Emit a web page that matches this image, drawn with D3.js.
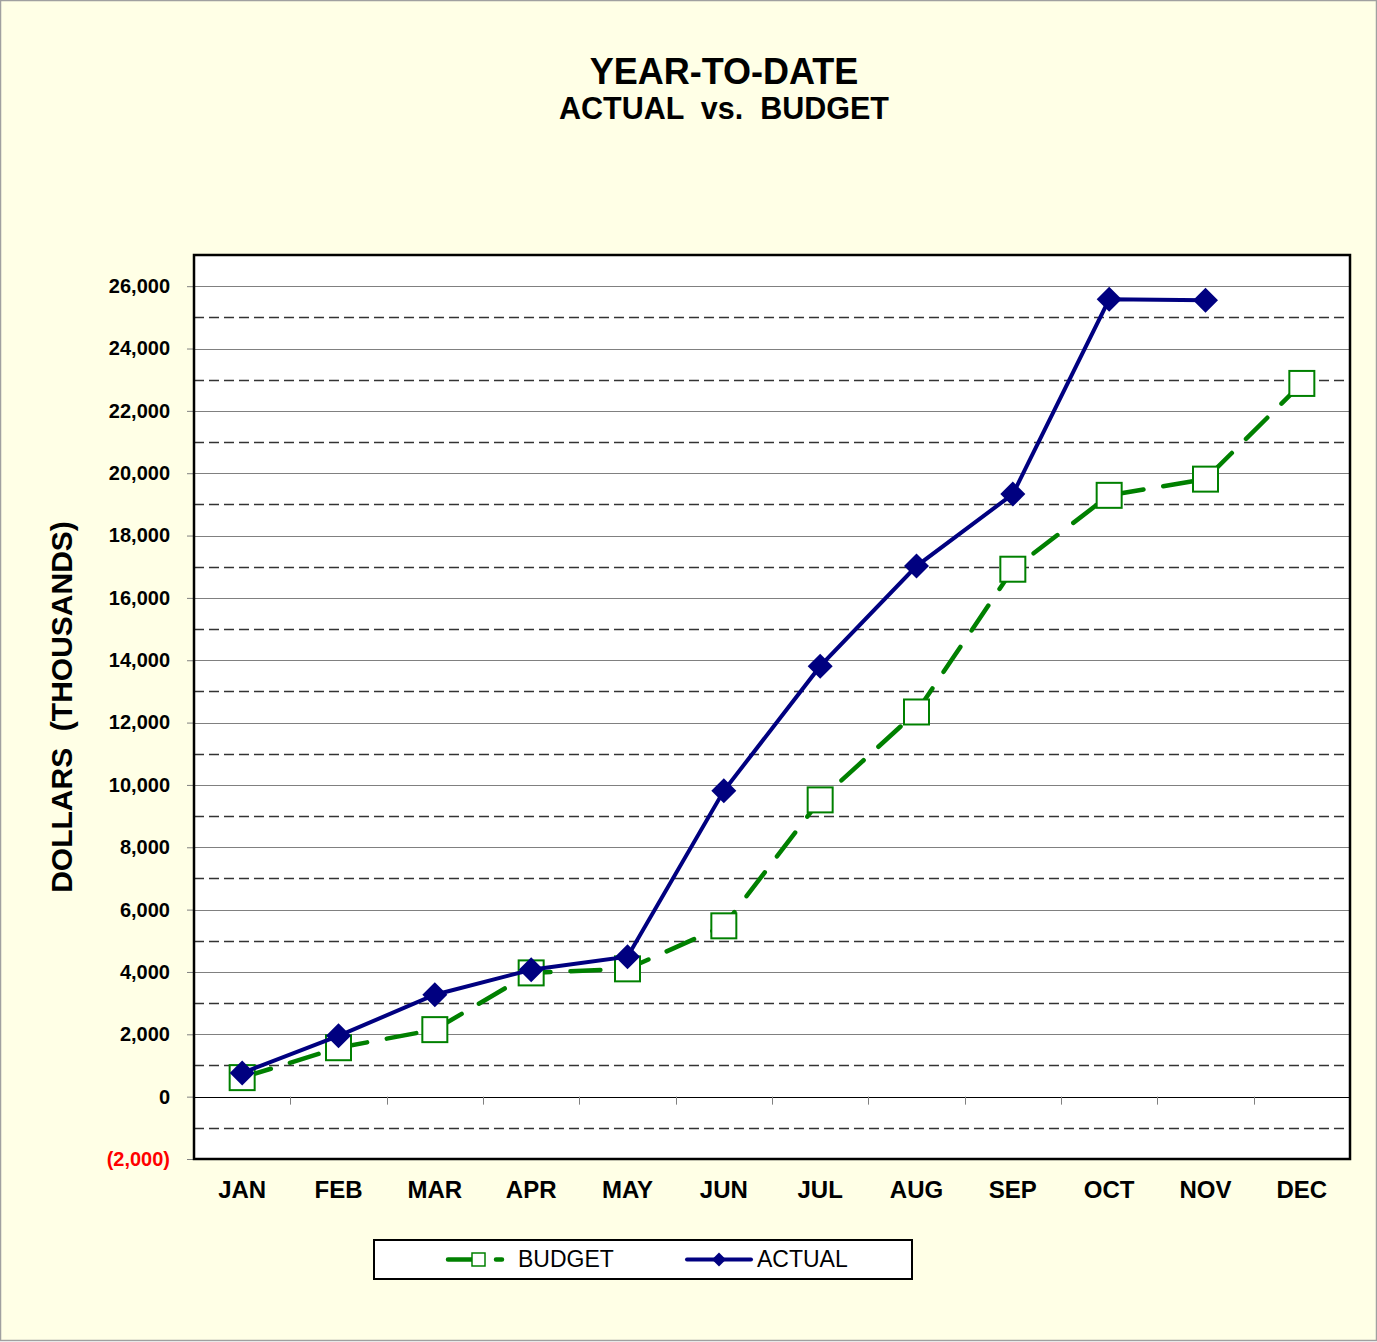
<!DOCTYPE html>
<html>
<head>
<meta charset="utf-8">
<script src="https://cdn.jsdelivr.net/npm/d3@7"></script>
<style>
  body { margin: 0; background: #fff; }
  svg { display: block; font-family: "Liberation Sans", Arial, sans-serif; }
</style>
</head>
<body>
<div id="chart"></div>
<script>
// data
var months = ["JAN", "FEB", "MAR", "APR", "MAY", "JUN", "JUL", "AUG", "SEP", "OCT", "NOV", "DEC"];
var budget = [610, 1570, 2150, 3970, 4100, 5480, 9520, 12340, 16920, 19290, 19810, 22880];
var actual = [760, 1950, 3270, 4070, 4490, 9810, 13810, 17020, 19330, 25580, 25550, null];
var majorTicks = [-2000, 0, 2000, 4000, 6000, 8000, 10000, 12000, 14000, 16000, 18000, 20000, 22000, 24000, 26000];
var minorTicks = [-1000, 1000, 3000, 5000, 7000, 9000, 11000, 13000, 15000, 17000, 19000, 21000, 23000, 25000];

var width = 1377, height = 1342;
var plotLeft = 194, plotRight = 1350, plotTop = 255, plotBottom = 1159;

var svg = d3.select("#chart").append("svg")
    .attr("width", width)
    .attr("height", height);

// page background
svg.append("rect")
    .attr("x", 0.5).attr("y", 0.5)
    .attr("width", width - 1).attr("height", height - 2)
    .style("fill", "#ffffe6")
    .style("stroke", "#a0a0a0")
    .style("stroke-width", "1.5px");

var x = d3.scaleBand()
    .domain(months)
    .range([plotLeft, plotRight]);

var y = d3.scaleLinear()
    .domain([-2000, 27000])
    .range([plotBottom, plotTop]);

var cx = function(m) { return x(m) + x.bandwidth() / 2; };

// titles
svg.append("text")
    .attr("x", 724).attr("y", 84)
    .attr("text-anchor", "middle")
    .style("font-size", "36px").style("font-weight", "bold")
    .text("YEAR-TO-DATE");
svg.append("text")
    .attr("x", 724).attr("y", 119)
    .attr("text-anchor", "middle")
    .attr("xml:space", "preserve")
    .style("font-size", "30.5px").style("font-weight", "bold")
    .text("ACTUAL  vs.  BUDGET");

// plot area
svg.append("rect")
    .attr("x", plotLeft).attr("y", plotTop)
    .attr("width", plotRight - plotLeft).attr("height", plotBottom - plotTop)
    .style("fill", "#fff");

// minor (dashed) gridlines
svg.append("g").selectAll("line")
    .data(minorTicks)
    .join("line")
    .attr("x1", plotLeft).attr("x2", plotRight)
    .attr("y1", d => Math.round(y(d)) + 0.5)
    .attr("y2", d => Math.round(y(d)) + 0.5)
    .style("stroke", "#333")
    .style("stroke-width", "1.3px")
    .style("stroke-dasharray", "10,5");

// major gridlines
svg.append("g").selectAll("line")
    .data(majorTicks.filter(d => d > 0))
    .join("line")
    .attr("x1", plotLeft).attr("x2", plotRight)
    .attr("y1", d => Math.round(y(d)) + 0.5)
    .attr("y2", d => Math.round(y(d)) + 0.5)
    .style("stroke", "#808080")
    .style("stroke-width", "1.2px");

// zero line + category ticks
svg.append("line")
    .attr("x1", plotLeft).attr("x2", plotRight)
    .attr("y1", Math.round(y(0)) + 0.5).attr("y2", Math.round(y(0)) + 0.5)
    .style("stroke", "#000")
    .style("stroke-width", "1.2px");

svg.append("g").selectAll("line")
    .data(months.slice(1))
    .join("line")
    .attr("x1", d => Math.round(x(d)) + 0.5)
    .attr("x2", d => Math.round(x(d)) + 0.5)
    .attr("y1", y(0)).attr("y2", y(0) + 8)
    .style("stroke", "#808080")
    .style("stroke-width", "1px");

// y axis
var yAxis = svg.append("g")
    .attr("transform", "translate(" + plotLeft + ",0)")
    .call(d3.axisLeft(y)
        .tickValues(majorTicks)
        .tickSize(7)
        .tickPadding(17)
        .tickFormat(d => d < 0 ? "(" + d3.format(",")(-d) + ")" : d3.format(",")(d)));
yAxis.select(".domain").remove();
yAxis.selectAll(".tick line").style("stroke", "#808080");
yAxis.selectAll(".tick text")
    .style("font-size", "20px")
    .style("font-weight", "bold")
    .style("font-family", "Liberation Sans, Arial, sans-serif")
    .style("fill", d => d < 0 ? "#ff0000" : "#000");

// plot frame
svg.append("rect")
    .attr("x", plotLeft).attr("y", plotTop)
    .attr("width", plotRight - plotLeft).attr("height", plotBottom - plotTop)
    .style("fill", "none")
    .style("stroke", "#000")
    .style("stroke-width", "2.5px");

// x labels
svg.append("g").selectAll("text")
    .data(months)
    .join("text")
    .attr("x", d => cx(d))
    .attr("y", 1198)
    .attr("text-anchor", "middle")
    .style("font-size", "24px").style("font-weight", "bold")
    .text(d => d);

// y title
svg.append("text")
    .attr("transform", "translate(72,707) rotate(-90)")
    .attr("text-anchor", "middle")
    .attr("xml:space", "preserve")
    .style("font-size", "30px").style("font-weight", "bold")
    .text("DOLLARS  (THOUSANDS)");

var line = d3.line()
    .defined(d => d.v != null)
    .x(d => cx(d.m))
    .y(d => y(d.v));

var budgetPts = months.map((m, i) => ({m: m, v: budget[i]}));
var actualPts = months.map((m, i) => ({m: m, v: actual[i]}));

// budget series
svg.append("path")
    .datum(budgetPts)
    .attr("d", line)
    .style("fill", "none")
    .style("stroke", "#008000")
    .style("stroke-width", "4.5px")
    .style("stroke-linecap", "round")
    .style("stroke-dasharray", "30,20");

svg.append("g").selectAll("rect")
    .data(budgetPts)
    .join("rect")
    .attr("x", d => cx(d.m) - 12.5)
    .attr("y", d => y(d.v) - 12.5)
    .attr("width", 25).attr("height", 25)
    .style("fill", "#fff")
    .style("stroke", "#008000")
    .style("stroke-width", "2px");

// actual series
svg.append("path")
    .datum(actualPts)
    .attr("d", line)
    .style("fill", "none")
    .style("stroke", "#000080")
    .style("stroke-width", "4px");

var diamond = "M0,-12.5 L12.5,0 L0,12.5 L-12.5,0 Z";
svg.append("g").selectAll("path")
    .data(actualPts.filter(d => d.v != null))
    .join("path")
    .attr("transform", d => "translate(" + cx(d.m) + "," + y(d.v) + ")")
    .attr("d", diamond)
    .style("fill", "#000080");

// legend
var legend = svg.append("g");
legend.append("rect")
    .attr("x", 374).attr("y", 1240)
    .attr("width", 538).attr("height", 39)
    .style("fill", "#fff")
    .style("stroke", "#000")
    .style("stroke-width", "2px");

legend.append("line")
    .attr("x1", 448).attr("x2", 510)
    .attr("y1", 1259.5).attr("y2", 1259.5)
    .style("stroke", "#008000")
    .style("stroke-width", "4.5px")
    .style("stroke-linecap", "round")
    .style("stroke-dasharray", "28,20,6,100");
legend.append("rect")
    .attr("x", 472).attr("y", 1253)
    .attr("width", 13).attr("height", 13)
    .style("fill", "#fff")
    .style("stroke", "#008000")
    .style("stroke-width", "1.5px");
legend.append("text")
    .attr("x", 518).attr("y", 1267)
    .style("font-size", "23px")
    .text("BUDGET");

legend.append("line")
    .attr("x1", 687).attr("x2", 751)
    .attr("y1", 1259.5).attr("y2", 1259.5)
    .style("stroke", "#000080")
    .style("stroke-width", "4px")
    .style("stroke-linecap", "round");
legend.append("path")
    .attr("transform", "translate(719,1259.5)")
    .attr("d", "M0,-7 L7,0 L0,7 L-7,0 Z")
    .style("fill", "#000080");
legend.append("text")
    .attr("x", 757).attr("y", 1267)
    .style("font-size", "23px")
    .text("ACTUAL");
</script>
</body>
</html>
